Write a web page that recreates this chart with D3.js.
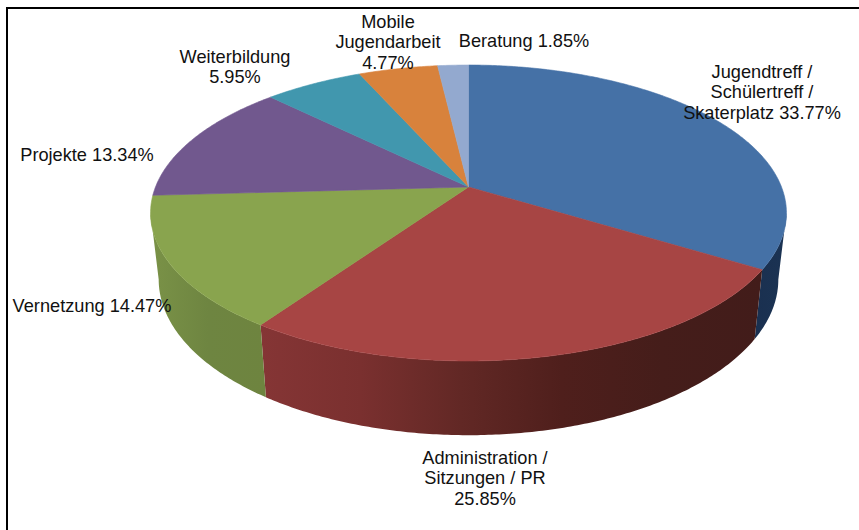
<!DOCTYPE html>
<html>
<head>
<meta charset="utf-8">
<script src="https://cdn.jsdelivr.net/npm/d3@7"></script>
<style>
  html, body { margin: 0; padding: 0; background: #fff; }
  svg { display: block; }
  text { font-family: "Liberation Sans", Arial, sans-serif; font-size: 18.2px; fill: #111; }
</style>
</head>
<body>
<svg id="chart" width="859" height="530"></svg>
<script>
/* ── DATA ───────────────────────────────────────── */
const categories = ['Jugendtreff', 'Administration', 'Vernetzung', 'Projekte', 'Weiterbildung', 'Mobile Jugendarbeit', 'Beratung'];
const shares     = [33.77, 25.85, 14.47, 13.34, 5.95, 4.77, 1.85];
const topColors  = ['#4571a6', '#a74544', '#89a44e', '#71588e', '#4197ae', '#d8823c', '#93a9cf'];
const sideStops  = [
  ['#1a3050', '#1b3353'],
  ['#853535', '#7a302f', '#622825', '#4f1f1c', '#451d1a', '#421c1a'],
  ['#7a9247', '#6e8541', '#6e843f']
];
const labelLines = [
  ['Jugendtreff /', 'Schülertreff /', 'Skaterplatz 33.77%'],
  ['Administration /', 'Sitzungen / PR', '25.85%'],
  ['Vernetzung 14.47%'],
  ['Projekte 13.34%'],
  ['Weiterbildung', '5.95%'],
  ['Mobile', 'Jugendarbeit', '4.77%'],
  ['Beratung 1.85%']
];

/* ── LAYOUT ─────────────────────────────────────── */
const labelAt = [[762, 78], [485, 464], [92, 312], [87, 161], [235, 63], [388, 28], [524, 47]];
const lineStep = 20.4;
const tilt = 0.1757;               // perspective of the disc
const cx = 468.5;
const svg = d3.select('#chart');

// rim coordinates are divided by depth, then go through plain linear scales
const topX = d3.scaleLinear().domain([-1, 1]).range([cx - 313, cx + 313]);
const topY = d3.scaleLinear().domain([-1, 1]).range([187 - 143.4, 187 + 143.4]);
const botX = d3.scaleLinear().domain([-1, 1]).range([cx - 305, cx + 305]);
const botY = d3.scaleLinear().domain([-1, 1]).range([252 - 151, 252 + 151]);

function project(sx, sy, a, r = 1) {
  const X = r * Math.sin(a), Y = -r * Math.cos(a), w = 1 - tilt * Y;
  return [sx(X / w), sy(Y / w)];
}

function sampleAngles(a0, a1) {
  const n = Math.max(2, Math.ceil((a1 - a0) / 0.01));
  return d3.range(n + 1).map(i => a0 + (a1 - a0) * i / n);
}

const arcs = d3.pie().sort(null).startAngle(0).endAngle(2 * Math.PI)(shares);
const line = d3.line();
const defs = svg.append('defs');

/* ── SIDE WALL ──────────────────────────────────── */
// only the part of the wall below the silhouette points shows
const wallFrom = Math.PI / 2 + Math.asin(tilt);
const wallTo   = 2 * Math.PI - wallFrom;

arcs.forEach((d, i) => {
  const a0 = Math.max(d.startAngle, wallFrom), a1 = Math.min(d.endAngle, wallTo);
  if (a1 <= a0 || !sideStops[i]) return;
  const angles = sampleAngles(a0, a1);
  const rimTop = angles.map(a => project(topX, topY, a));
  const rimBot = angles.map(a => project(botX, botY, a)).reverse();

  const xs = rimTop.concat(rimBot).map(p => p[0]);
  const tone = d3.scaleLinear().domain([0, sideStops[i].length - 1]).range(d3.extent(xs));
  const id = 'side' + i;
  // red wall runs dark to the right, the stops are listed left to right
  const grad = defs.append('linearGradient').attr('id', id)
    .attr('gradientUnits', 'userSpaceOnUse')
    .attr('x1', tone.range()[0]).attr('x2', tone.range()[1]).attr('y1', 0).attr('y2', 0);
  sideStops[i].forEach((c, k) => {
    grad.append('stop').attr('offset', k / (sideStops[i].length - 1)).attr('stop-color', c);
  });
  svg.append('path')
    .attr('d', line(rimTop.concat(rimBot)) + 'Z')
    .attr('fill', 'url(#' + id + ')');
});

/* ── TOP FACE ───────────────────────────────────── */
arcs.forEach((d, i) => {
  const rim = sampleAngles(d.startAngle, d.endAngle).map(a => project(topX, topY, a));
  svg.append('path')
    .attr('d', line([project(topX, topY, 0, 0)].concat(rim)) + 'Z')
    .attr('fill', topColors[i])
    .attr('stroke', topColors[i])
    .attr('stroke-width', 0.6);
});

/* ── LABELS ─────────────────────────────────────── */
labelLines.forEach((lines, i) => {
  const t = svg.append('text').attr('text-anchor', 'middle');
  lines.forEach((s, k) => {
    t.append('tspan').attr('x', labelAt[i][0]).attr('y', labelAt[i][1] + k * lineStep).text(s);
  });
});

/* ── FRAME (left and top edge only) ─────────────── */
svg.append('path')
  .attr('d', 'M7,530V8H859')
  .attr('fill', 'none').attr('stroke', '#000').attr('stroke-width', 2);
</script>
</body>
</html>
